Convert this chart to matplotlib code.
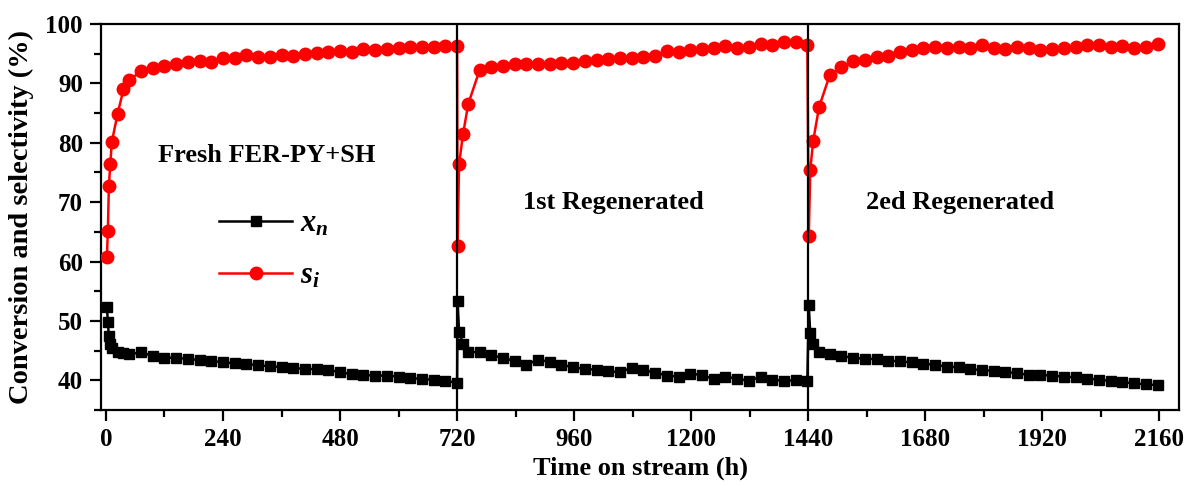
import matplotlib
matplotlib.use("Agg")
import matplotlib.pyplot as plt

# ---------------- data ----------------
time_h = [2, 4, 6, 9, 12, 24, 36, 48, 72, 96, 120, 144, 168, 192, 216, 240, 264, 288,
          312, 336, 360, 384, 408, 432, 456, 480, 504, 528, 552, 576, 600, 624, 648,
          672, 696, 720,
          721, 724, 732, 743, 766, 790, 814, 838, 862, 886, 910, 934, 958, 982, 1006,
          1030, 1054, 1078, 1102, 1126, 1150, 1174, 1198, 1222, 1246, 1270, 1294, 1318,
          1342, 1366, 1390, 1414, 1438,
          1441, 1444, 1450, 1462, 1484, 1508, 1532, 1556, 1580, 1604, 1628, 1652, 1676,
          1700, 1724, 1748, 1772, 1796, 1820, 1844, 1868, 1892, 1916, 1940, 1964, 1988,
          2012, 2036, 2060, 2084, 2108, 2132, 2156]

x_n = [52.4, 49.8, 47.5, 46.1, 45.5, 44.8, 44.6, 44.4, 44.7, 44.1, 43.8, 43.8, 43.6,
       43.4, 43.3, 43.0, 42.9, 42.8, 42.5, 42.4, 42.2, 42.1, 41.9, 41.9, 41.7, 41.4,
       41.0, 40.9, 40.8, 40.8, 40.6, 40.4, 40.2, 40.1, 39.9, 39.6,
       53.4, 48.2, 46.1, 44.8, 44.7, 44.3, 43.7, 43.3, 42.6, 43.5, 43.1, 42.6, 42.2,
       41.9, 41.8, 41.5, 41.4, 42.1, 41.7, 41.3, 40.8, 40.6, 41.1, 40.9, 40.2, 40.6,
       40.3, 39.9, 40.6, 40.1, 39.9, 40.0, 39.9,
       52.6, 47.9, 46.1, 44.7, 44.4, 44.1, 43.8, 43.6, 43.6, 43.3, 43.2, 43.0, 42.8,
       42.6, 42.3, 42.2, 41.9, 41.7, 41.6, 41.4, 41.2, 40.9, 40.9, 40.8, 40.6, 40.5,
       40.3, 40.1, 39.9, 39.7, 39.5, 39.3, 39.2]

s_i = [60.8, 65.2, 72.7, 76.4, 80.1, 84.9, 89.0, 90.5, 92.1, 92.6, 92.9, 93.2, 93.6,
       93.8, 93.6, 94.2, 94.2, 94.8, 94.5, 94.5, 94.7, 94.6, 94.9, 95.1, 95.3, 95.4,
       95.3, 95.8, 95.6, 95.8, 95.9, 96.1, 96.1, 96.1, 96.3, 96.3,
       62.7, 76.4, 81.4, 86.6, 92.2, 92.8, 93.0, 93.2, 93.2, 93.3, 93.3, 93.4, 93.5,
       93.8, 93.9, 94.1, 94.2, 94.3, 94.5, 94.6, 95.4, 95.3, 95.6, 95.8, 95.9, 96.3,
       96.0, 96.2, 96.6, 96.5, 97.0, 96.9, 96.5,
       64.3, 75.4, 80.3, 86.0, 91.4, 92.7, 93.8, 93.9, 94.5, 94.6, 95.3, 95.7, 95.9,
       96.1, 96.0, 96.2, 96.0, 96.5, 96.0, 95.8, 96.2, 96.0, 95.6, 95.8, 96.0, 96.2,
       96.5, 96.5, 96.2, 96.3, 96.0, 96.2, 96.6]

regen_times = [720, 1440]
x_ticks = [0, 240, 480, 720, 960, 1200, 1440, 1680, 1920, 2160]
y_ticks = [40, 50, 60, 70, 80, 90, 100]
annotations = [("Fresh FER-PY+SH", 329, 77.9),
               ("1st Regenerated", 1040, 69.9),
               ("2ed Regenerated", 1752, 69.9)]

# ---------------- style ----------------
plt.rcParams['font.family'] = ['Liberation Serif', 'DejaVu Serif']
plt.rcParams['font.weight'] = 'bold'
plt.rcParams['mathtext.fontset'] = 'custom'
plt.rcParams['mathtext.it'] = 'Liberation Serif:italic:bold'
plt.rcParams['mathtext.rm'] = 'Liberation Serif:bold'

fig = plt.figure(figsize=(11.86, 4.86), dpi=100)
ax = fig.add_axes([0.0852, 0.1564, 0.9089, 0.7942])

ax.plot(time_h, x_n, color='black', lw=1.8, marker='s', ms=7.8,
        label=r'$x_n$', zorder=3)
ax.plot(time_h, s_i, color='red', lw=1.8, marker='o', ms=9,
        label=r'$s_i$', zorder=3)

for t in regen_times:
    ax.axvline(t, color='black', lw=1.6, zorder=4)

ax.set_xlim(-10, 2200)
ax.set_ylim(35, 100)
ax.set_xticks(x_ticks)
ax.set_xticks([t + 120 for t in x_ticks[:-1]], minor=True)
ax.set_yticks(y_ticks)
ax.set_yticks([v + 5 for v in y_ticks[:-1]] + [35], minor=True)

for s in ax.spines.values():
    s.set_linewidth(1.6)
ax.tick_params(axis='both', which='major', direction='out', length=8, width=1.6,
               labelsize=18, pad=5)
ax.tick_params(axis='both', which='minor', direction='out', length=5, width=1.6)
for lab in ax.get_xticklabels() + ax.get_yticklabels():
    lab.set_fontweight('bold')

ax.set_xlabel('Time on stream (h)', fontsize=19, fontweight='bold', labelpad=4)
ax.set_ylabel('Conversion and selectivity (%)', fontsize=20.5, fontweight='bold',
              labelpad=8)

for txt, tx, ty in annotations:
    ax.text(tx, ty, txt, fontsize=19, fontweight='bold', ha='center', va='center')

ax.legend(loc='upper left', bbox_to_anchor=(0.098, 0.55), frameon=False,
          fontsize=22, handlelength=2.4, labelspacing=0.75, handletextpad=0.25,
          borderaxespad=0)

fig.savefig('out.png', dpi=100)
